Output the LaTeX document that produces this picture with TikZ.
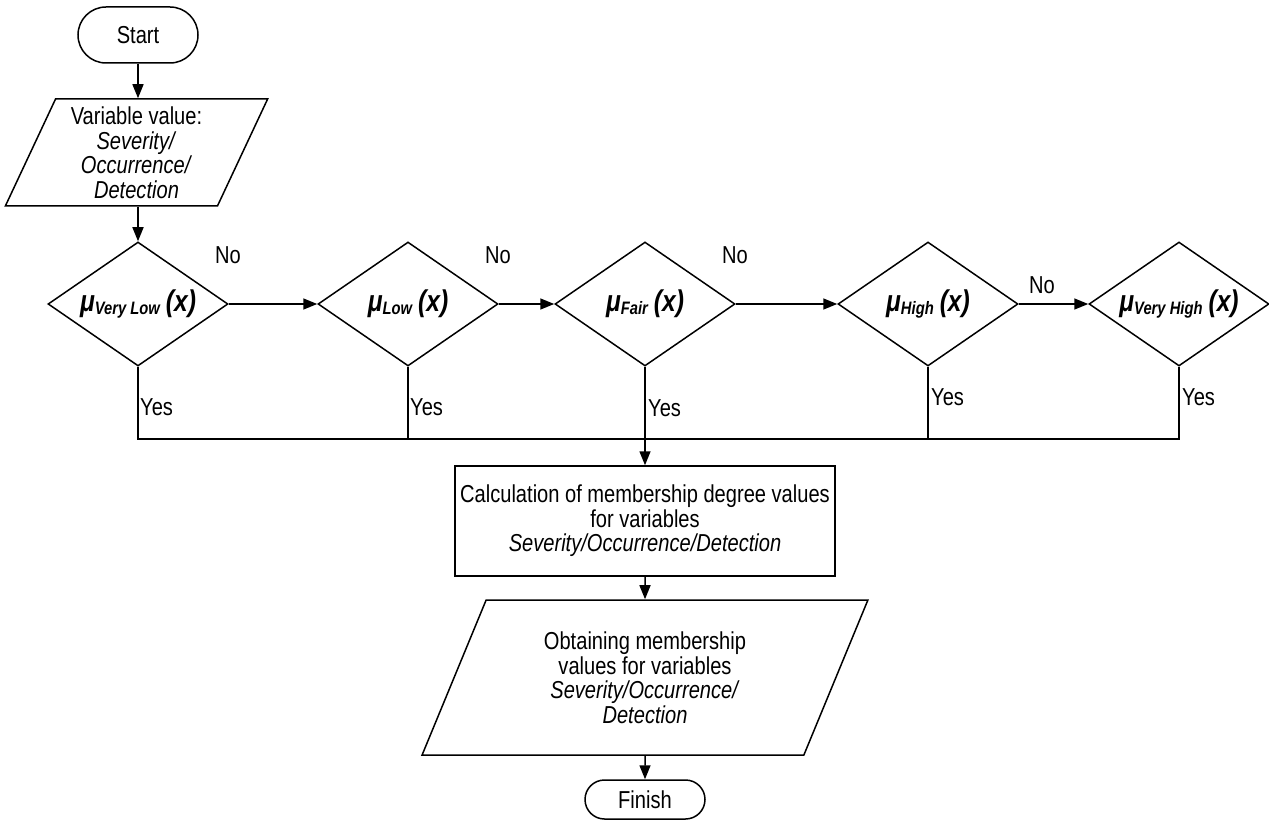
\documentclass[tikz,border=0pt]{standalone}
\usepackage{fontspec}
\setmainfont{Liberation Sans}[FakeStretch=0.82]
\usetikzlibrary{shapes.geometric,arrows.meta,calc}
\newcommand{\muf}[1]{{\fontsize{30}{30}\selectfont\bfseries\itshape μ\raisebox{-3pt}{\fontsize{18}{18}\selectfont #1}\hspace{6pt}(x)}}
\tikzset{
  lw/.style={line width=1.5pt},
  txt/.style={font=\fontsize{24.5}{24.5}\selectfont, inner sep=0pt, align=center},
  term/.style={lw, draw, rectangle, txt, minimum width=120pt},
  io/.style={lw, draw, trapezium, txt, trapezium stretches=true,
     trapezium left angle=66, trapezium right angle=114},
  proc/.style={lw, draw, rectangle, txt},
  dec/.style={lw, draw, diamond, inner sep=0pt, aspect=1.452,
     minimum width=180pt, minimum height=124pt},
  lbl/.style={txt},
  arr/.style={lw, -{Triangle[length=14pt,width=11pt]}},
  ln/.style={lw}
}
\begin{document}
\begin{tikzpicture}[x=1pt,y=-1pt]
\useasboundingbox (0,0) rectangle (1269,821);
\node[term, minimum height=56pt, rounded corners=28pt] (start) at (138,35) {Start};
\node[io, minimum width=263pt, minimum height=107pt] (in) at (136.5,152.5)
  {Variable value:\\\textit{Severity/}\\\textit{Occurrence/}\\\textit{Detection}};
\node[dec] (d1) at (138,304) {\muf{Very Low}};
\node[dec] (d2) at (408,304) {\muf{Low}};
\node[dec] (d3) at (645,304) {\muf{Fair}};
\node[dec] (d4) at (928,304) {\muf{High}};
\node[dec] (d5) at (1179,304) {\muf{Very High}};
\node[proc, minimum width=380pt, minimum height=110pt] (calc) at (645,521)
  {Calculation of membership degree values\\for variables\\\textit{Severity/Occurrence/Detection}};
\node[io, minimum width=446pt, minimum height=155pt] (out) at (645,677.5)
  {Obtaining membership\\values for variables\\\textit{Severity/Occurrence/}\\\textit{Detection}};
\node[term, minimum height=39pt, rounded corners=19.5pt] (finish) at (645,799.5) {Finish};
\coordinate (bus) at (0,439);
% labels
\node[lbl] (no1) at (228,255) {No};
\node[lbl] (no2) at (498,255) {No};
\node[lbl] (no3) at (735,255) {No};
\node[lbl] (no4) at (1042,285) {No};
\node[lbl, anchor=west] (yes1) at (140,407) {Yes};
\node[lbl, anchor=west] (yes2) at (410,407) {Yes};
\node[lbl, anchor=west] (yes3) at (648,408) {Yes};
\node[lbl, anchor=west] (yes4) at (931,397) {Yes};
\node[lbl, anchor=west] (yes5) at (1182,397) {Yes};
% connectors
\draw[arr] (start.south) -- (start.south |- in.north);
\draw[arr] (d1.north |- in.south) -- (d1.north);
\draw[arr] (d1.east) -- (d2.west);
\draw[arr] (d2.east) -- (d3.west);
\draw[arr] (d3.east) -- (d4.west);
\draw[arr] (d4.east) -- (d5.west);
\draw[ln] (d1.south) -- (d1.south |- bus) -- (d5.south |- bus) -- (d5.south);
\draw[ln] (d2.south) -- (d2.south |- bus);
\draw[ln] (d3.south) -- (d3.south |- bus);
\draw[ln] (d4.south) -- (d4.south |- bus);
\draw[arr] (d3.south |- bus) -- (calc.north);
\draw[arr] (calc.south) -- (out.north);
\draw[arr] (out.south) -- (finish.north);
\end{tikzpicture}
\end{document}
